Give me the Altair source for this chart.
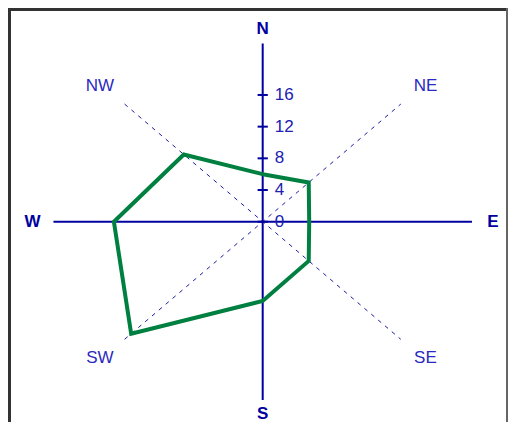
import altair as alt
import pandas as pd

# ---- data ----
directions = ["N", "NE", "E", "SE", "S", "SW", "W", "NW"]
angles = [0, 45, 90, 135, 180, 225, 270, 315]
values = [6, 7, 5, 7, 10, 20, 16, 12]
tick_values = [0, 4, 8, 12, 16]
tick_labels = ["0", "4", "8", "12", "16"]
main_dirs = ["N", "E", "S", "W"]
main_angles = [0, 90, 180, 270]
diag_dirs = ["NE", "SE", "SW", "NW"]
diag_angles = [45, 135, 225, 315]

AXIS_LEN = 22.5
DIAG_LEN = 21.0
LABEL_RX = 24.75
LABEL_RY = 24.3

W, H = 500, 414
NAVY = "#0000a0"
LBLUE = "#2a2ac0"
GREEN = "#008040"

poly = pd.DataFrame({"dir": directions + [directions[0]],
                     "angle": angles + [angles[0]],
                     "value": values + [values[0]],
                     "order": list(range(len(directions) + 1))})
axes_df = pd.DataFrame({"angle": [0, 90]})
diag_df = pd.DataFrame({"angle": [45, 135]})
main_lbl = pd.DataFrame({"label": main_dirs, "angle": main_angles})
diag_lbl = pd.DataFrame({"label": diag_dirs, "angle": diag_angles})
ticks = pd.DataFrame({"v": tick_values, "label": tick_labels})

xs = alt.Scale(domain=[-27.387, 26.376], nice=False, zero=False)
ys = alt.Scale(domain=[-25.29, 26.98], nice=False, zero=False)

def X(field):
    return alt.X(field, type="quantitative", scale=xs, axis=None)

def Y(field):
    return alt.Y(field, type="quantitative", scale=ys, axis=None)

sin_ = "sin(datum.angle*PI/180)"
cos_ = "cos(datum.angle*PI/180)"

axis_lines = alt.Chart(axes_df).transform_calculate(
    x1=f"-{AXIS_LEN}*{sin_}", x2=f"{AXIS_LEN}*{sin_}",
    y1=f"-{AXIS_LEN}*{cos_}", y2=f"{AXIS_LEN}*{cos_}",
).mark_rule(color=NAVY, strokeWidth=2).encode(
    x=X("x1"), x2="x2", y=Y("y1"), y2="y2")

diag_lines = alt.Chart(diag_df).transform_calculate(
    x1=f"-{DIAG_LEN}*{sin_}", x2=f"{DIAG_LEN}*{sin_}",
    y1=f"-{DIAG_LEN}*{cos_}", y2=f"{DIAG_LEN}*{cos_}",
).mark_rule(color="#1c1ca8", strokeWidth=1, strokeDash=[4, 5]).encode(
    x=X("x1"), x2="x2", y=Y("y1"), y2="y2")

tick_marks = alt.Chart(ticks).transform_calculate(
    xa="-0.55", xb="0.55"
).mark_rule(color=NAVY, strokeWidth=2).encode(
    x=X("xa"), x2="xb", y=Y("v"))

tick_text = alt.Chart(ticks).transform_calculate(
    x0="0"
).mark_text(align="left", baseline="middle", dx=12, fontSize=17,
            font="Liberation Sans", color="#2020b0").encode(
    x=X("x0"), y=Y("v"), text="label:N")

polygon = alt.Chart(poly).transform_calculate(
    px=f"datum.value*{sin_}", py=f"datum.value*{cos_}"
).mark_line(color=GREEN, strokeWidth=4, strokeJoin="miter").encode(
    x=X("px"), y=Y("py"), order="order:Q")

main_text = alt.Chart(main_lbl).transform_calculate(
    px=f"{LABEL_RX}*{sin_}", py=f"{LABEL_RY}*{cos_}"
).mark_text(align="center", baseline="middle", fontSize=17, fontWeight="bold",
            font="Liberation Sans", color=NAVY).encode(
    x=X("px"), y=Y("py"), text="label:N")

diag_text = alt.Chart(diag_lbl).transform_calculate(
    px=f"{LABEL_RX}*{sin_}", py=f"{LABEL_RY}*{cos_}"
).mark_text(align="center", baseline="middle", fontSize=17,
            font="Liberation Sans", color=LBLUE).encode(
    x=X("px"), y=Y("py"), text="label:N")

frame_top = alt.Chart(ticks).mark_rule(color="#333333", strokeWidth=4).encode(
    x=alt.value(0), x2=alt.value(W), y=alt.value(1))
frame_left = alt.Chart(ticks).mark_rule(color="#333333", strokeWidth=4).encode(
    x=alt.value(1), y=alt.value(0), y2=alt.value(H))
frame_right = alt.Chart(ticks).mark_rule(color="#666666", strokeWidth=2).encode(
    x=alt.value(W - 1), y=alt.value(0), y2=alt.value(H))

chart = alt.layer(
    diag_lines, axis_lines, tick_marks, tick_text, polygon,
    main_text, diag_text, frame_top, frame_left, frame_right
).properties(
    width=W, height=H, padding=0, autosize=alt.AutoSizeParams(type="none")
).configure_view(stroke=None).configure(background="white")

chart.save("out.html", embed_options={"renderer": "svg", "actions": False})
